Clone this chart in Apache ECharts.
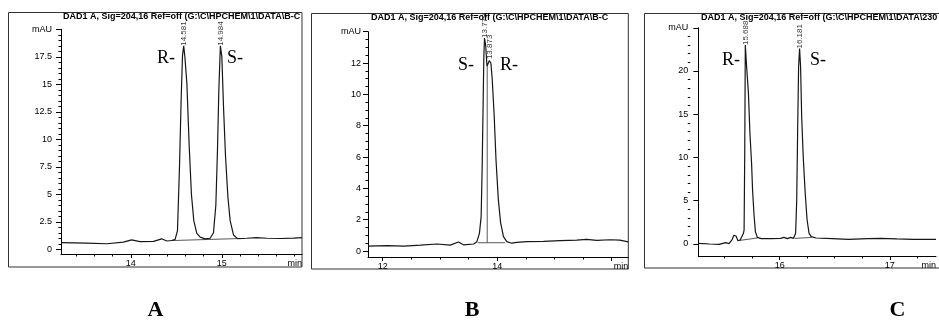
<!DOCTYPE html>
<html><head><meta charset="utf-8">
<script src="https://cdn.jsdelivr.net/npm/echarts@6/dist/echarts.min.js"></script>
<style>html,body{margin:0;padding:0;background:#fff}#c{width:939px;height:321px}</style>
</head><body><div id="c"></div>
<script>
// ---- Data (retention time in min, signal in mAU) ----
const traceA = [[13.234,0.6],[13.516,0.55],[13.736,0.5],[13.919,0.65],[14.01,0.85],[14.10,0.7],[14.25,0.72],[14.34,0.95],[14.395,0.75],[14.45,0.8],[14.487,0.9],[14.513,1.7],[14.535,7.5],[14.553,13.6],[14.568,17.6],[14.581,18.5],[14.594,17.5],[14.616,15.1],[14.641,9.5],[14.666,5.0],[14.692,2.6],[14.725,1.45],[14.762,1.1],[14.817,0.95],[14.872,1.0],[14.908,1.5],[14.934,4.0],[14.952,9.0],[14.967,14.5],[14.984,18.5],[15.0,17.5],[15.018,13.0],[15.04,8.5],[15.066,4.8],[15.091,2.6],[15.128,1.3],[15.172,0.97],[15.274,1.0],[15.384,1.05],[15.494,1.0],[15.64,0.98],[15.787,1.02],[15.88,1.06]];
const traceB = [[11.744,0.32],[12.08,0.34],[12.37,0.32],[12.66,0.38],[12.95,0.45],[13.18,0.38],[13.325,0.58],[13.41,0.4],[13.59,0.45],[13.645,0.6],[13.69,1.13],[13.72,2.2],[13.738,5.4],[13.756,9.7],[13.767,12.4],[13.779,13.6],[13.80,13.1],[13.822,11.8],[13.845,11.9],[13.862,12.15],[13.873,12.25],[13.89,12.0],[13.913,11.0],[13.948,8.6],[13.98,5.8],[14.02,3.3],[14.06,1.8],[14.11,0.92],[14.168,0.6],[14.256,0.5],[14.34,0.55],[14.52,0.6],[14.81,0.62],[15.10,0.66],[15.39,0.7],[15.56,0.75],[15.74,0.68],[15.97,0.72],[16.14,0.7],[16.29,0.58]];
const traceC = [[15.261,0.08],[15.364,0.0],[15.45,-0.04],[15.51,0.15],[15.54,0.04],[15.57,0.54],[15.583,1.0],[15.604,0.92],[15.62,0.39],[15.642,0.46],[15.67,1.2],[15.677,1.6],[15.683,10.9],[15.688,23.0],[15.70,20.5],[15.716,17.5],[15.73,12.8],[15.745,9.3],[15.754,6.2],[15.768,3.2],[15.78,1.4],[15.797,0.77],[15.833,0.62],[15.92,0.62],[16.009,0.65],[16.038,0.77],[16.07,0.62],[16.1,0.77],[16.126,0.65],[16.145,1.23],[16.155,5.1],[16.163,12.8],[16.172,20.5],[16.181,22.6],[16.19,20.5],[16.2,14.7],[16.214,10.1],[16.232,5.9],[16.249,2.8],[16.267,1.23],[16.287,0.85],[16.331,0.69],[16.478,0.62],[16.625,0.54],[16.8,0.62],[16.918,0.65],[17.065,0.58],[17.21,0.54],[17.42,0.54]];

const baselinesA = [[[14.44,0.79],[15.17,0.97]]];
const baselinesB = [[[13.66,0.53],[14.14,0.53]],[[13.826,0.53],[13.826,11.8]]];
const baselinesC = [[[15.63,0.4],[15.80,0.7]],[[16.135,0.65],[16.29,0.75]]];

const peaksA = [[14.581,18.5,'14.581'],[14.984,18.5,'14.984']];
const peaksB = [[13.779,13.6,'13.779'],[13.873,12.25,'13.873']];
const peaksC = [[15.688,23.0,'15.688'],[16.181,22.6,'16.181']];

const xLabelsA = [14,15], xTicksA = [14,15], xMinorA = [13.4,13.6,13.8,14.2,14.4,14.6,14.8,15.2,15.4,15.6,15.8];
const xLabelsB = [12,14], xTicksB = [12,14,16], xMinorB = [12.5,13,13.5,14.5,15,15.5];
const xLabelsC = [16,17], xTicksC = [16,17], xMinorC = [15.5,15.75,16.25,16.5,16.75,17.25];

const yLabelsA = [0,2.5,5,7.5,10,12.5,15,17.5,20];
const yLabelsB = [0,2,4,6,8,10,12,14];
const yLabelsC = [0,5,10,15,20,25];
const yMinorStepA = 0.5, yMinorStepB = 0.5, yMinorStepC = 1;

const titleA = 'DAD1 A, Sig=204,16 Ref=off (G:\\C\\HPCHEM\\1\\DATA\\B-C';
const titleB = 'DAD1 A, Sig=204,16 Ref=off (G:\\C\\HPCHEM\\1\\DATA\\B-C';
const titleC = 'DAD1 A, Sig=204,16 Ref=off (G:\\C\\HPCHEM\\1\\DATA\\230';

// ---- Layout ----
function minorList(labels, step){
  const out=[]; const lo=labels[0], hi=labels[labels.length-1];
  const n=Math.round((hi-lo)/step);
  for(let k=0;k<=n;k++){const v=+(lo+k*step).toFixed(4); if(labels.indexOf(v)<0) out.push(v);}
  return out;
}
const FONT = '"Liberation Sans", Arial, sans-serif';
const panels = [
  {grid:{left:61,top:29.3,width:241,height:224.7}, xmin:13.234,xmax:15.88,ymin:-0.43,ymax:20,
   trace:traceA, base:baselinesA, peaks:peaksA, xl:xLabelsA, xt:xTicksA, xm:xMinorA, yl:yLabelsA, ym:minorList(yLabelsA,yMinorStepA), ymargin:9, title:titleA, tleft:63, ttop:12},
  {grid:{left:368,top:31.7,width:260.3,height:225.3}, xmin:11.744,xmax:16.29,ymin:-0.38,ymax:14,
   trace:traceB, base:baselinesB, peaks:peaksB, xl:xLabelsB, xt:xTicksB, xm:xMinorB, yl:yLabelsB, ym:minorList(yLabelsB,yMinorStepB), ymargin:7, title:titleB, tleft:371, ttop:13},
  {grid:{left:698.3,top:27.75,width:245.7,height:228.25}, xmin:15.261,xmax:17.42,ymin:-1.39,ymax:25,
   trace:traceC, base:baselinesC, peaks:peaksC, xl:xLabelsC, xt:xTicksC, xm:xMinorC, yl:yLabelsC, ym:minorList(yLabelsC,yMinorStepC), ymargin:10, title:titleC, tleft:701, ttop:13}
];

const HIDDEN_LINE = {show:true, onZero:false, lineStyle:{color:'rgba(0,0,0,0)', width:1}};
const grids=[], xAxes=[], yAxes=[], series=[], titles=[];
panels.forEach((p,i)=>{
  grids.push(p.grid);
  titles.push({text:p.title, left:p.tleft, top:p.ttop, padding:0, textStyle:{fontSize:9, fontWeight:'bold', color:'#000', fontFamily:FONT}});
  xAxes.push({gridIndex:i, type:'value', position:'bottom', min:p.xmin, max:p.xmax,
    axisLine:{show:true,onZero:false,lineStyle:{color:'#000',width:1}}, splitLine:{show:false},
    axisTick:{show:true, customValues:p.xt, length:4, lineStyle:{color:'#000'}},
    axisLabel:{show:true, customValues:p.xl, fontSize:9, color:'#000', margin:5, fontFamily:FONT},
    name:'min', nameLocation:'end', nameGap:0,
    nameTextStyle:{align:'right', verticalAlign:'top', padding:[5,0,0,0], fontSize:9, color:'#000', fontFamily:FONT}});
  // minor-tick axis: placed on top, shifted down onto the bottom axis line, ticks pointing down
  xAxes.push({gridIndex:i, type:'value', position:'top', offset:-p.grid.height, min:p.xmin, max:p.xmax,
    axisLine:HIDDEN_LINE, splitLine:{show:false},
    axisTick:{show:true, inside:true, customValues:p.xm, length:2.5, lineStyle:{color:'#000', width:1}},
    axisLabel:{show:false}});
  yAxes.push({gridIndex:i, type:'value', position:'left', min:p.ymin, max:p.ymax,
    axisLine:{show:true,onZero:false,lineStyle:{color:'#000',width:1}}, splitLine:{show:false},
    axisTick:{show:true, customValues:p.yl, length:5, lineStyle:{color:'#000'}},
    axisLabel:{show:true, customValues:p.yl, fontSize:9, color:'#000', margin:p.ymargin, fontFamily:FONT,
      formatter:(v)=> (Math.abs(v-p.ymax)<1e-9 ? 'mAU' : String(v))}});
  yAxes.push({gridIndex:i, type:'value', position:'right', offset:-p.grid.width, min:p.ymin, max:p.ymax,
    axisLine:HIDDEN_LINE, splitLine:{show:false},
    axisTick:{show:true, inside:true, customValues:p.ym, length:2.5, lineStyle:{color:'#000', width:1}},
    axisLabel:{show:false}});
  series.push({type:'line', xAxisIndex:2*i, yAxisIndex:2*i, data:p.trace, symbol:'none', showSymbol:false,
    lineStyle:{color:'#161616', width:1.2}, animation:false, z:3});
  p.base.forEach(seg=>{
    series.push({type:'line', xAxisIndex:2*i, yAxisIndex:2*i, data:seg, symbol:'none', showSymbol:false,
      lineStyle:{color:'#444', width:0.9}, animation:false, z:2});
  });
  series.push({type:'scatter', xAxisIndex:2*i, yAxisIndex:2*i, symbolSize:0,
    data:p.peaks.map(d=>({value:[d[0],d[1]], name:d[2]})), animation:false, z:4,
    label:{show:true, formatter:'{b}', rotate:90, position:'top', distance:0, align:'left', verticalAlign:'middle',
      fontSize:8, color:'#000', fontFamily:FONT}});
});

const serif = '"Liberation Serif", "Times New Roman", serif';
const graphic = [
  {type:'rect', shape:{x:8.5,y:12.5,width:293.5,height:254.5}, style:{fill:null, stroke:'#333', lineWidth:1}, silent:true},
  {type:'rect', shape:{x:311.5,y:13.5,width:316.8,height:255.5}, style:{fill:null, stroke:'#333', lineWidth:1}, silent:true},
  {type:'rect', shape:{x:644.5,y:13.5,width:299.5,height:254.5}, style:{fill:null, stroke:'#333', lineWidth:1}, silent:true},
  {type:'text', x:157, y:58, style:{text:'R-', font:'18px '+serif, fill:'#000', align:'left', verticalAlign:'middle'}},
  {type:'text', x:227, y:58, style:{text:'S-', font:'18px '+serif, fill:'#000', align:'left', verticalAlign:'middle'}},
  {type:'text', x:458, y:65, style:{text:'S-', font:'18px '+serif, fill:'#000', align:'left', verticalAlign:'middle'}},
  {type:'text', x:500, y:65, style:{text:'R-', font:'18px '+serif, fill:'#000', align:'left', verticalAlign:'middle'}},
  {type:'text', x:722, y:60, style:{text:'R-', font:'18px '+serif, fill:'#000', align:'left', verticalAlign:'middle'}},
  {type:'text', x:810, y:60, style:{text:'S-', font:'18px '+serif, fill:'#000', align:'left', verticalAlign:'middle'}},
  {type:'text', x:155.5, y:310, style:{text:'A', font:'bold 22px '+serif, fill:'#000', align:'center', verticalAlign:'middle'}},
  {type:'text', x:472, y:310, style:{text:'B', font:'bold 22px '+serif, fill:'#000', align:'center', verticalAlign:'middle'}},
  {type:'text', x:897.5, y:310, style:{text:'C', font:'bold 22px '+serif, fill:'#000', align:'center', verticalAlign:'middle'}}
];

const chart = echarts.init(document.getElementById('c'), null, {renderer:'canvas'});
chart.setOption({
  backgroundColor:'#fff', animation:false,
  title:titles, grid:grids, xAxis:xAxes, yAxis:yAxes, series:series, graphic:graphic
});
</script></body></html>
